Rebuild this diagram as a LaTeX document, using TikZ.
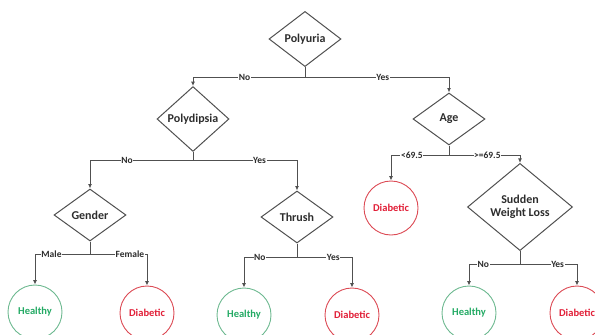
\documentclass[tikz,border=0pt]{standalone}
\usepackage{fontspec}
\setmainfont{Carlito}
\usepackage{xcolor}
\usepackage{tikz}
\usetikzlibrary{arrows.meta, positioning, shapes.geometric}
\definecolor{edgegray}{RGB}{80,80,80}
\definecolor{txtgray}{RGB}{45,45,45}
\definecolor{okgreen}{RGB}{35,170,100}
\definecolor{okring}{RGB}{110,185,145}
\definecolor{badred}{RGB}{225,30,55}
\definecolor{badring}{RGB}{220,75,85}
\tikzset{
  test/.style={diamond, draw=edgegray, line width=1pt, align=center, inner sep=1pt,
    minimum width=72pt, minimum height=52pt, text=txtgray,
    font=\fontsize{12}{13.5}\selectfont\bfseries},
  healthy/.style={circle, draw=okring, line width=0.9pt, minimum size=54pt, inner sep=0pt,
    text=okgreen, font=\fontsize{10.5}{12}\selectfont\bfseries},
  diabetic/.style={circle, draw=badring, line width=0.9pt, minimum size=54pt, inner sep=0pt,
    text=badred, font=\fontsize{10.5}{12}\selectfont\bfseries},
  lbl/.style={fill=white, inner sep=0.6pt, text=txtgray, font=\fontsize{9.5}{10}\selectfont\bfseries},
  line/.style={draw=edgegray, line width=1pt, -{Latex[length=4.5pt,width=4pt]}}
}

\begin{document}
\begin{tikzpicture}[on grid]
    \clip (0pt,0pt) rectangle (595pt,-335pt);
    \useasboundingbox (0pt,0pt) rectangle (595pt,-335pt);
    \node[test] (uria) at (305pt,-39pt) {Polyuria};
    \node[test, below left=80pt and 112pt of uria] (dips) {Polydipsia};
    \node[test, below right=80pt and 144pt of uria] (age) {Age};
    \node[test, below left=96pt and 103pt of dips] (gen) {Gender};
    \node[test, below right=98pt and 104pt of dips] (thr) {Thrush};
    \node[diabetic, below left=89pt and 58pt of age] (dC) {Diabetic};
    \node[test, below right=88pt and 71pt of age, minimum width=105pt, minimum height=68pt] (swl) {Sudden\\Weight Loss};
    \node[healthy, below left=97pt and 55pt of gen] (hA) {Healthy};
    \node[diabetic, below right=98pt and 57pt of gen] (dA) {Diabetic};
    \node[healthy, below left=98pt and 53pt of thr] (hB) {Healthy};
    \node[diabetic, below right=98pt and 55pt of thr] (dB) {Diabetic};
    \node[healthy, below left=106pt and 51pt of swl] (hC) {Healthy};
    \node[diabetic, below right=106pt and 57pt of swl] (dD) {Diabetic};
    \draw[line] (uria.south) -- ++(0,-10pt) -| node[lbl, pos=0.27]{No} (dips);
    \draw[line] (uria.south) -- ++(0,-10pt) -| node[lbl, pos=0.27]{Yes} (age);
    \draw[line] (dips.south) -- ++(0,-9pt) -| node[lbl, pos=0.32]{No} (gen);
    \draw[line] (dips.south) -- ++(0,-9pt) -| node[lbl, pos=0.32]{Yes} (thr);
    \draw[line] (gen.south) -- ++(0,-12.5pt) -| node[lbl, pos=0.35]{Male} (hA);
    \draw[line] (gen.south) -- ++(0,-12.5pt) -| node[lbl, pos=0.35]{Female} (dA);
    \draw[line] (thr.south) -- ++(0,-13.5pt) -| node[lbl, pos=0.35]{No} (hB);
    \draw[line] (thr.south) -- ++(0,-13.5pt) -| node[lbl, pos=0.33]{Yes} (dB);
    \draw[line] (age.south) -- ++(0,-9.5pt) -| node[lbl, pos=0.32]{<69.5} (dC);
    \draw[line] (age.south) -- ++(0,-9.5pt) -| node[lbl, pos=0.27]{>=69.5} (swl);
    \draw[line] (swl.south) -- ++(0,-13pt) -| node[lbl, pos=0.36]{No} (hC);
    \draw[line] (swl.south) -- ++(0,-13pt) -| node[lbl, pos=0.33]{Yes} (dD);
  \end{tikzpicture}
\end{document}
